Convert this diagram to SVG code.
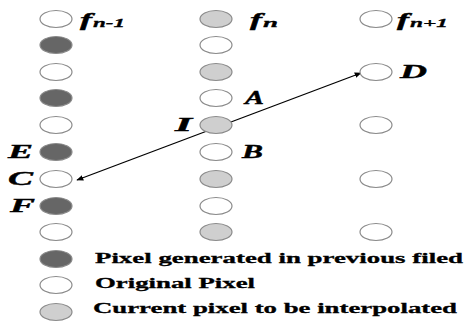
<svg xmlns="http://www.w3.org/2000/svg" width="467" height="322" viewBox="0 0 467 322">
<defs>
<marker id="ah" viewBox="0 0 10 10" refX="9" refY="5" markerWidth="7" markerHeight="7" orient="auto-start-reverse" markerUnits="userSpaceOnUse">
<path d="M0,1 L10,5 L0,9 z" fill="#000"/>
</marker>
</defs>
<style>
.px{stroke:#8a8a8a;stroke-width:1.2}
.dk{fill:#666}
.wt{fill:#fff}
.gy{fill:#cfcfcf}
.lb{font-family:"Liberation Serif",serif;font-weight:bold;font-style:italic;font-size:19px;fill:#000;stroke:#000;stroke-width:0.4}
.sb{font-family:"Liberation Serif",serif;font-weight:bold;font-style:italic;font-size:13px;fill:#000;stroke:#000;stroke-width:0.3}
.lg{font-family:"Liberation Serif",serif;font-weight:bold;font-size:15px;fill:#000;stroke:#000;stroke-width:0.3}
</style>
<rect width="467" height="322" fill="#fff"/>
<g id="connectors">
<line x1="77" y1="180" x2="361" y2="73" stroke="#000" stroke-width="1.3" marker-start="url(#ah)" marker-end="url(#ah)"/>
</g>
<g id="col1">
<ellipse class="px wt" cx="56" cy="19" rx="16" ry="8.5"/>
<ellipse class="px dk" cx="56" cy="45" rx="16" ry="8.5"/>
<ellipse class="px wt" cx="56" cy="72" rx="16" ry="8.5"/>
<ellipse class="px dk" cx="56" cy="98" rx="16" ry="8.5"/>
<ellipse class="px wt" cx="56" cy="125" rx="16" ry="8.5"/>
<ellipse id="E" class="px dk" cx="56" cy="152" rx="16" ry="8.5"/>
<ellipse id="C" class="px wt" cx="56" cy="179" rx="16" ry="8.5"/>
<ellipse id="F" class="px dk" cx="56" cy="206" rx="16" ry="8.5"/>
<ellipse class="px wt" cx="56" cy="232" rx="16" ry="8.5"/>
</g>
<g id="col2">
<ellipse class="px gy" cx="216" cy="19" rx="16" ry="8.5"/>
<ellipse class="px wt" cx="216" cy="45" rx="16" ry="8.5"/>
<ellipse class="px gy" cx="216" cy="72" rx="16" ry="8.5"/>
<ellipse id="A" class="px wt" cx="216" cy="98" rx="16" ry="8.5"/>
<ellipse id="I" class="px gy" cx="216" cy="125" rx="16" ry="8.5"/>
<ellipse id="B" class="px wt" cx="216" cy="152" rx="16" ry="8.5"/>
<ellipse class="px gy" cx="216" cy="179" rx="16" ry="8.5"/>
<ellipse class="px wt" cx="216" cy="206" rx="16" ry="8.5"/>
<ellipse class="px gy" cx="216" cy="232" rx="16" ry="8.5"/>
</g>
<g id="col3">
<ellipse class="px wt" cx="376" cy="19" rx="16" ry="8.5"/>
<ellipse id="D" class="px wt" cx="376" cy="72" rx="16" ry="8.5"/>
<ellipse class="px wt" cx="376" cy="125" rx="16" ry="8.5"/>
<ellipse class="px wt" cx="376" cy="179" rx="16" ry="8.5"/>
<ellipse class="px wt" cx="376" cy="232" rx="16" ry="8.5"/>
</g>
<g id="labels">
<text class="lb" x="80" y="26" textLength="12" lengthAdjust="spacingAndGlyphs">f</text>
<text class="sb" x="93" y="27" textLength="32" lengthAdjust="spacingAndGlyphs">n-1</text>
<text class="lb" x="250" y="26" textLength="12" lengthAdjust="spacingAndGlyphs">f</text>
<text class="sb" x="263" y="27" textLength="15" lengthAdjust="spacingAndGlyphs">n</text>
<text class="lb" x="397" y="26" textLength="12" lengthAdjust="spacingAndGlyphs">f</text>
<text class="sb" x="410" y="27" textLength="38" lengthAdjust="spacingAndGlyphs">n+1</text>
<text class="lb" x="400" y="78" textLength="27" lengthAdjust="spacingAndGlyphs">D</text>
<text class="lb" x="245" y="104" textLength="19" lengthAdjust="spacingAndGlyphs">A</text>
<text class="lb" x="175" y="131" textLength="17" lengthAdjust="spacingAndGlyphs">I</text>
<text class="lb" x="242" y="158" textLength="21" lengthAdjust="spacingAndGlyphs">B</text>
<text class="lb" x="8" y="158" textLength="25" lengthAdjust="spacingAndGlyphs">E</text>
<text class="lb" x="8" y="185" textLength="25" lengthAdjust="spacingAndGlyphs">C</text>
<text class="lb" x="10" y="212" textLength="25" lengthAdjust="spacingAndGlyphs">F</text>
</g>
<g id="legend">
<ellipse class="px dk" cx="56" cy="259" rx="16" ry="8.5"/>
<ellipse class="px wt" cx="56" cy="285" rx="16" ry="8.5"/>
<ellipse class="px gy" cx="56" cy="312" rx="16" ry="8.5"/>
<text class="lg" x="95" y="263" textLength="368" lengthAdjust="spacingAndGlyphs">Pixel generated in previous filed</text>
<text class="lg" x="95" y="288" textLength="160" lengthAdjust="spacingAndGlyphs">Original Pixel</text>
<text class="lg" x="93" y="313" textLength="364" lengthAdjust="spacingAndGlyphs">Current pixel to be interpolated</text>
</g>
</svg>
